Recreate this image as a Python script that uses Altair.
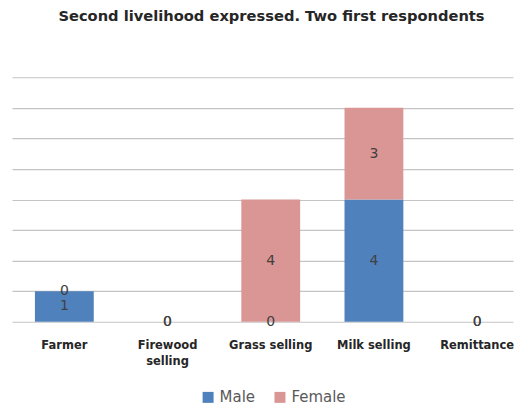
import altair as alt
import pandas as pd

categories = ["Farmer", "Firewood selling", "Grass selling", "Milk selling", "Remittance"]
male = [1, 0, 0, 4, 0]
female = [0, 0, 4, 3, 0]
series = ["Male", "Female"]
colors = ["#4F81BD", "#D99694"]

rows = []
for c, m, f in zip(categories, male, female):
    rows.append({"cat": c, "series": "Male", "value": m, "ord": 0})
    rows.append({"cat": c, "series": "Female", "value": f, "ord": 1})
df = pd.DataFrame(rows)

x = alt.X("cat:N", sort=categories, title=None,
          scale=alt.Scale(paddingInner=0.43, paddingOuter=0.1425, align=0.78),
          axis=alt.Axis(labelAngle=0, ticks=False, domain=False, labelPadding=18,
                        labelFont="DejaVu Sans", labelFontWeight="bold", labelFontSize=11.5,
                        labelColor="#262626", labelLineHeight=16, labelBaseline="top",
                        labelExpr="datum.label == 'Firewood selling' ? ['Firewood', 'selling'] : datum.label"))

base = alt.Chart(df).transform_window(
    cum="sum(value)", groupby=["cat"], sort=[alt.SortField("ord")], frame=[None, 0]
).transform_calculate(
    lo="datum.cum - datum.value", mid="datum.cum - datum.value / 2"
)

bars = base.mark_bar().encode(
    x=x,
    y=alt.Y("lo:Q", title=None, scale=alt.Scale(domain=[0, 8], nice=False),
            axis=alt.Axis(labels=False, ticks=False, domain=False, tickCount=8,
                          gridColor="#C4C4C4", gridWidth=1.2)),
    y2="cum:Q",
    color=alt.Color("series:N", sort=series,
                    scale=alt.Scale(domain=series, range=colors),
                    legend=alt.Legend(orient="none", legendX=189, legendY=313, title=None,
                                      direction="horizontal", padding=0,
                                      symbolType="square", symbolSize=121, symbolStrokeWidth=0,
                                      labelFont="DejaVu Sans", labelFontSize=15, labelColor="#595959",
                                      labelOffset=4, columnPadding=17)),
)

labels = base.mark_text(font="DejaVu Sans", fontSize=14, color="#404040", baseline="middle").encode(
    x=x,
    y=alt.Y("mid:Q"),
    text="value:Q",
)

chart = (bars + labels).properties(
    width=502, height=245,
    padding={"left": 4, "top": 0, "right": 0, "bottom": 0},
    title=alt.TitleParams("Second livelihood expressed. Two first respondents",
                          font="DejaVu Sans", fontSize=14.7, fontWeight="bold", color="#262626",
                          anchor="middle", offset=54, dx=9),
).configure_view(stroke=None)

chart.save("out.html", embed_options={"renderer": "svg", "actions": False})
